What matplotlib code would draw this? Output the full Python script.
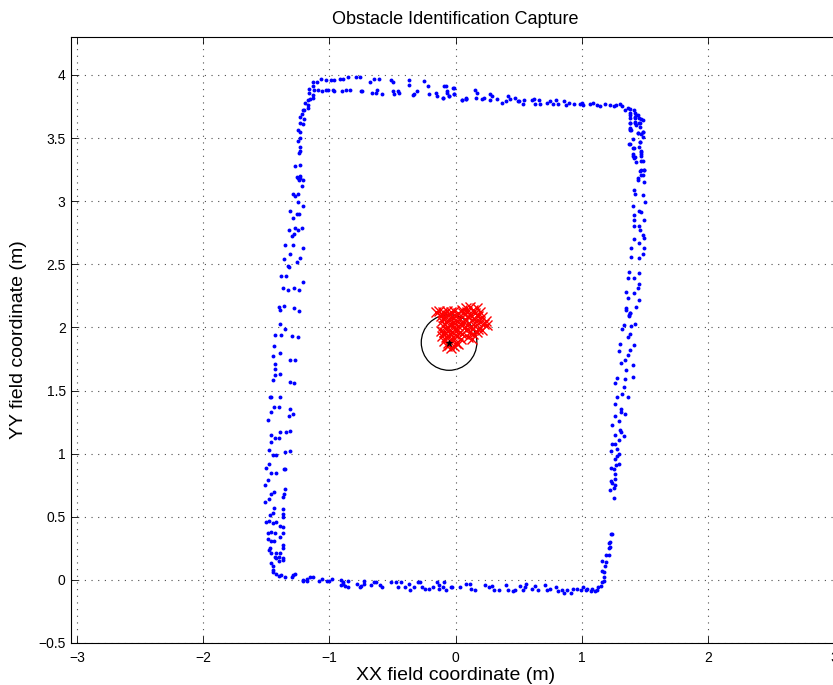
import matplotlib
matplotlib.use('Agg')
import matplotlib.pyplot as plt
from matplotlib.patches import Circle

plt.rcParams['font.family'] = ['Liberation Sans', 'DejaVu Sans']

# blue: wall points (x, y in metres)
# top-left corner and top edge
top_x = [-1.07, -1.03, -0.99, -0.96, -0.92, -0.89, -0.85, -0.79, -0.76, -0.68, -0.65, -0.61, -0.51, -0.50,
         -0.37, -0.37, -0.25, -0.22, -0.09, -0.01,
         -1.09, -1.06, -1.03, -1.01, -0.97, -0.96, -0.90, -0.87, -0.84, -0.75, -0.74, -0.66, -0.63, -0.62,
         -0.58, -0.50, -0.49, -0.46, -0.45, -0.34, -0.33, -0.31, -0.21, -0.16, -0.15, -0.10, -0.07, -0.05,
         -0.01, 0.05, 0.08,
         -0.08, -0.07, -0.10, -0.05, -0.02, -0.01, 0.05, 0.08, 0.08, 0.15, 0.17, 0.16, 0.21, 0.22, 0.27,
         0.29, 0.27, 0.33, 0.37, 0.40, 0.41, 0.43, 0.47, 0.49, 0.50, 0.53, 0.54, 0.60, 0.62, 0.63, 0.66,
         0.67, 0.72, 0.75, 0.77, 0.79, 0.81, 0.86, 0.87, 0.90, 0.94, 0.98, 1.00, 1.01, 1.06, 1.09, 1.12,
         1.14, 1.18, 1.22, 1.25, 1.27, 1.30, 1.32, 1.34, 1.36, 1.38, 1.41, 1.42, 1.44, 1.45, 1.42, 1.38]
top_y = [3.97, 3.96, 3.96, 3.96, 3.97, 3.97, 3.98, 3.98, 3.98, 3.94, 3.97, 3.97, 3.96, 3.94,
         3.96, 3.92, 3.95, 3.91, 3.91, 3.90,
         3.88, 3.87, 3.88, 3.88, 3.88, 3.87, 3.87, 3.88, 3.88, 3.87, 3.87, 3.86, 3.86, 3.88,
         3.85, 3.87, 3.85, 3.87, 3.86, 3.84, 3.85, 3.87, 3.85, 3.86, 3.83, 3.82, 3.86, 3.83,
         3.85, 3.80, 3.81,
         3.91, 3.87, 3.82, 3.83, 3.90, 3.85, 3.80, 3.81, 3.82, 3.88, 3.86, 3.82, 3.81, 3.82, 3.85,
         3.83, 3.80, 3.81, 3.78, 3.79, 3.83, 3.81, 3.82, 3.79, 3.79, 3.77, 3.80, 3.80, 3.81, 3.77, 3.80,
         3.77, 3.78, 3.79, 3.77, 3.80, 3.77, 3.79, 3.76, 3.78, 3.77, 3.77, 3.78, 3.76, 3.77, 3.78, 3.76,
         3.75, 3.77, 3.76, 3.75, 3.76, 3.77, 3.75, 3.72, 3.74, 3.73, 3.72, 3.70, 3.68, 3.66, 3.66, 3.66]

# left edge
left_x = [-1.13, -1.10, -1.13, -1.12, -1.16, -1.16, -1.13, -1.13, -1.17, -1.15, -1.19, -1.17, -1.17,
          -1.20, -1.21, -1.22, -1.23, -1.20, -1.23, -1.21, -1.25, -1.23, -1.23, -1.25, -1.23, -1.23,
          -1.24, -1.27, -1.23, -1.26, -1.23,
          -1.25, -1.23, -1.21, -1.24, -1.22, -1.29, -1.25, -1.27, -1.25, -1.21, -1.31, -1.26, -1.24,
          -1.29, -1.27, -1.22, -1.32, -1.25, -1.28, -1.30, -1.35, -1.29, -1.21, -1.31, -1.36, -1.23,
          -1.26, -1.33, -1.32, -1.38, -1.34, -1.21, -1.37, -1.33, -1.28, -1.24, -1.40, -1.39, -1.36,
          -1.28, -1.24, -1.39, -1.35, -1.43, -1.38, -1.30, -1.25, -1.44, -1.39, -1.45, -1.31, -1.27,
          -1.43, -1.43, -1.43, -1.39, -1.45, -1.31, -1.28,
          -1.46, -1.47, -1.39, -1.44, -1.40, -1.46, -1.31, -1.32, -1.29, -1.49, -1.46, -1.43, -1.40,
          -1.39, -1.34, -1.31, -1.46, -1.48, -1.45, -1.42, -1.35, -1.31, -1.48, -1.50, -1.46, -1.42,
          -1.36, -1.35, -1.49, -1.51, -1.44, -1.46, -1.35, -1.36, -1.37, -1.48, -1.51, -1.44, -1.37,
          -1.45, -1.47, -1.37, -1.37, -1.48, -1.50, -1.45, -1.42, -1.39, -1.37, -1.49, -1.46, -1.43,
          -1.37, -1.39, -1.49, -1.46, -1.44, -1.37, -1.47, -1.48, -1.37, -1.46, -1.42, -1.43, -1.40,
          -1.39, -1.42, -1.40, -1.37, -1.37, -1.46, -1.45, -1.45, -1.45, -1.42, -1.40, -1.38]
left_y = [3.94, 3.94, 3.91, 3.88, 3.89, 3.86, 3.84, 3.82, 3.80, 3.81, 3.78, 3.76, 3.74,
          3.72, 3.72, 3.69, 3.67, 3.65, 3.62, 3.61, 3.56, 3.55, 3.50, 3.48, 3.43, 3.40,
          3.38, 3.28, 3.29, 3.19, 3.18,
          3.18, 3.20, 3.17, 3.17, 3.12, 3.06, 3.06, 3.04, 2.99, 2.96, 2.92, 2.90, 2.90,
          2.87, 2.79, 2.79, 2.77, 2.77, 2.74, 2.72, 2.65, 2.65, 2.63, 2.58, 2.54, 2.55,
          2.52, 2.49, 2.48, 2.41, 2.41, 2.36, 2.31, 2.30, 2.31, 2.30, 2.16, 2.14, 2.17,
          2.15, 2.13, 2.03, 1.99, 1.94, 1.94, 1.93, 1.92, 1.85, 1.80, 1.77, 1.74, 1.74,
          1.71, 1.67, 1.62, 1.63, 1.58, 1.57, 1.56,
          1.45, 1.45, 1.45, 1.37, 1.37, 1.33, 1.35, 1.30, 1.31, 1.27, 1.15, 1.12, 1.12,
          1.17, 1.17, 1.18, 1.09, 1.03, 0.99, 0.99, 1.01, 1.02, 0.92, 0.89, 0.85, 0.85,
          0.88, 0.88, 0.79, 0.75, 0.70, 0.68, 0.72, 0.68, 0.66, 0.64, 0.62, 0.57, 0.56,
          0.53, 0.51, 0.52, 0.50, 0.47, 0.46, 0.45, 0.46, 0.43, 0.42, 0.37, 0.38, 0.37,
          0.37, 0.34, 0.32, 0.31, 0.31, 0.28, 0.25, 0.24, 0.25, 0.21, 0.21, 0.18, 0.18,
          0.21, 0.17, 0.15, 0.17, 0.16, 0.13, 0.11, 0.08, 0.06, 0.05, 0.03, 0.04]

# bottom edge
bot_x = [-1.35, -1.30, -1.29, -1.27, -1.21, -1.21, -1.18, -1.18, -1.15, -1.13, -1.08, -1.06, -1.02,
         -1.00, -0.98, -0.91, -0.89, -0.91, -0.88, -0.85, -0.89, -0.85, -0.78, -0.76, -0.75, -0.73,
         -0.73, -0.67, -0.65, -0.63, -0.60, -0.58, -0.51, -0.47, -0.46, -0.43, -0.40, -0.37, -0.36,
         -0.33, -0.30, -0.28, -0.27, -0.24, -0.21, -0.18, -0.15, -0.13, -0.13, -0.10, -0.04,
         -0.09, -0.08, -0.03, 0.03, 0.08, 0.11, 0.12, 0.15, 0.23, 0.26, 0.29, 0.30, 0.34, 0.40, 0.41,
         0.45, 0.47, 0.51, 0.53, 0.55, 0.56, 0.60, 0.63, 0.65, 0.71, 0.72, 0.75, 0.79, 0.81, 0.84,
         0.86, 0.88, 0.91, 0.93, 0.96, 0.99, 1.01, 1.03, 1.04, 1.07, 1.08, 1.10, 1.12, 1.13, 1.15,
         1.16, 1.17, 1.17, 1.17, 1.16, 1.18, 1.16, 1.19, 1.19, 1.21, 1.21, 1.22, 1.21, 1.22, 1.23, 1.24]
bot_y = [0.02, 0.02, 0.04, 0.05, 0.00, -0.01, 0.01, -0.01, 0.02, 0.02, -0.01, 0.01, -0.01,
         -0.01, 0.01, 0.00, -0.02, -0.04, -0.05, -0.01, -0.03, -0.06, -0.03, -0.06, -0.05, -0.01,
         -0.03, -0.04, -0.02, -0.02, -0.04, -0.06, -0.02, -0.02, -0.06, -0.02, -0.06, -0.03, -0.08,
         -0.06, -0.02, -0.02, -0.06, -0.07, -0.07, -0.06, -0.02, -0.04, -0.07, -0.06, -0.06,
         -0.02, -0.08, -0.06, -0.06, -0.03, -0.03, -0.07, -0.08, -0.04, -0.06, -0.05, -0.08, -0.08,
         -0.04, -0.08, -0.09, -0.08, -0.05, -0.08, -0.06, -0.03, -0.07, -0.05, -0.08, -0.04, -0.08,
         -0.07, -0.06, -0.09, -0.08, -0.10, -0.08, -0.10, -0.07, -0.07, -0.08, -0.06, -0.08, -0.07,
         -0.09, -0.07, -0.09, -0.08, -0.06, -0.05, -0.02, -0.01, 0.02, 0.06, 0.07, 0.11, 0.15, 0.14,
         0.20, 0.20, 0.25, 0.26, 0.29, 0.30, 0.36, 0.36]

# right edge
right_x = [1.48, 1.38, 1.42, 1.46, 1.43, 1.38, 1.39, 1.48, 1.44, 1.48, 1.40, 1.46, 1.38, 1.45, 1.47,
           1.41, 1.40, 1.42, 1.47, 1.48, 1.43, 1.47, 1.49, 1.48, 1.44,
           1.38, 1.38, 1.42, 1.43, 1.47, 1.38, 1.42, 1.45, 1.38, 1.46, 1.38, 1.48, 1.44, 1.47, 1.46,
           1.37, 1.40, 1.47, 1.47, 1.40, 1.41, 1.47, 1.46, 1.49, 1.47, 1.44, 1.49, 1.41, 1.42, 1.48,
           1.50, 1.40, 1.45, 1.47, 1.41, 1.49, 1.41, 1.41, 1.45, 1.46, 1.48, 1.49, 1.41, 1.45, 1.49,
           1.39, 1.48, 1.39, 1.45, 1.37, 1.45, 1.36, 1.41, 1.45, 1.44, 1.35, 1.41, 1.36, 1.45, 1.35,
           1.43, 1.38, 1.37,
           1.35, 1.38, 1.37, 1.42, 1.33, 1.39, 1.32, 1.38, 1.36, 1.30, 1.41, 1.38, 1.29, 1.36, 1.34,
           1.31, 1.40, 1.35, 1.28, 1.40, 1.34, 1.26, 1.33, 1.32, 1.28, 1.36, 1.26, 1.31, 1.31, 1.26,
           1.34, 1.29, 1.24, 1.30, 1.31, 1.26, 1.33, 1.29, 1.24, 1.26, 1.28, 1.23, 1.29, 1.28, 1.26,
           1.29, 1.27, 1.25, 1.23, 1.26, 1.26, 1.23, 1.24, 1.26, 1.25, 1.22, 1.25]
right_y = [3.64, 3.62, 3.63, 3.62, 3.60, 3.57, 3.56, 3.55, 3.54, 3.51, 3.49, 3.47, 3.45, 3.43, 3.40,
           3.42, 3.37, 3.35, 3.36, 3.32, 3.31, 3.25, 3.25, 3.21, 3.18,
           3.70, 3.68, 3.67, 3.68, 3.65, 3.62, 3.62, 3.62, 3.58, 3.59, 3.56, 3.55, 3.54, 3.53, 3.47,
           3.45, 3.42, 3.39, 3.37, 3.36, 3.34, 3.32, 3.24, 3.25, 3.21, 3.17, 3.15, 3.09, 3.06, 3.05,
           2.99, 2.96, 2.92, 2.91, 2.89, 2.85, 2.85, 2.80, 2.80, 2.77, 2.73, 2.71, 2.70, 2.67, 2.63,
           2.63, 2.58, 2.56, 2.55, 2.44, 2.43, 2.39, 2.39, 2.34, 2.31, 2.28, 2.27, 2.23, 2.22, 2.15,
           2.16, 2.11, 2.10,
           2.14, 2.11, 2.09, 2.03, 2.02, 2.01, 1.99, 1.95, 1.92, 1.87, 1.86, 1.82, 1.81, 1.78, 1.74,
           1.72, 1.70, 1.66, 1.60, 1.61, 1.59, 1.56, 1.53, 1.47, 1.45, 1.45, 1.39, 1.35, 1.33, 1.30,
           1.31, 1.26, 1.23, 1.19, 1.17, 1.15, 1.14, 1.11, 1.08, 1.08, 1.04, 1.02, 1.00, 0.98, 0.96,
           0.92, 0.91, 0.88, 0.89, 0.84, 0.80, 0.78, 0.77, 0.75, 0.73, 0.71, 0.65]

# red: obstacle detections
obs_x = [-0.16, -0.13, -0.10, -0.07, -0.04, -0.01, 0.02, -0.12, -0.09, -0.06, -0.03, 0.00, 0.03,
         -0.11, -0.08, -0.05, -0.02, 0.01, 0.04, -0.10, -0.07, -0.04, -0.01, 0.02,
         0.05, 0.08, 0.11, 0.14, 0.17, 0.19, 0.06, 0.09, 0.12, 0.15, 0.18, 0.21, 0.07, 0.10, 0.13,
         0.16, 0.19, 0.22, 0.25, 0.24, 0.06, 0.09, 0.12, 0.15, 0.18, 0.21, 0.08, 0.11, 0.14, 0.17,
         0.10, 0.13,
         -0.12, -0.09, -0.06, -0.03, 0.00, 0.03, 0.05, -0.11, -0.08, -0.05, -0.02, 0.01, 0.04,
         -0.09, -0.06, -0.03, 0.00, 0.02, -0.07, -0.04, -0.01, -0.05]
obs_y = [2.12, 2.13, 2.12, 2.13, 2.12, 2.13, 2.11, 2.09, 2.08, 2.10, 2.08, 2.09, 2.07,
         2.05, 2.04, 2.06, 2.04, 2.05, 2.03, 2.01, 2.00, 2.02, 2.00, 2.01,
         2.14, 2.15, 2.16, 2.14, 2.15, 2.12, 2.11, 2.12, 2.10, 2.11, 2.09, 2.08, 2.07, 2.08, 2.06,
         2.05, 2.04, 2.03, 2.02, 2.05, 2.03, 2.02, 2.00, 2.01, 1.99, 1.98, 1.98, 1.96, 1.95, 1.96,
         1.92, 1.91,
         1.97, 1.96, 1.97, 1.96, 1.97, 1.96, 1.95, 1.93, 1.92, 1.93, 1.92, 1.93, 1.91,
         1.89, 1.88, 1.89, 1.88, 1.87, 1.85, 1.84, 1.85, 1.86]

# estimated obstacle
est_x, est_y = -0.053, 1.88
est_r = 0.22

wall_x = top_x + left_x + bot_x + right_x
wall_y = top_y + left_y + bot_y + right_y

fig = plt.figure(figsize=(8.33, 6.85), dpi=100)
ax = fig.add_axes([70.5 / 833, 42 / 685, 770.5 / 833, 606 / 685])

ax.plot(wall_x, wall_y, 'o', color='b', markersize=2.8, markeredgewidth=0)
ax.plot(obs_x, obs_y, 'x', color='r', markersize=7, markeredgewidth=1.0)
ax.add_patch(Circle((est_x, est_y), est_r, fill=False, edgecolor='k', linewidth=0.9))
ax.plot([est_x], [est_y], '*', color='k', markersize=5, markeredgewidth=0.6)

ax.set_xlim(-3.05, 3.05)
ax.set_ylim(-0.5, 4.3)
ax.set_xticks([-3, -2, -1, 0, 1, 2, 3])
ax.set_yticks([-0.5, 0, 0.5, 1, 1.5, 2, 2.5, 3, 3.5, 4])
ax.set_yticklabels(['\u22120.5', '0', '0.5', '1', '1.5', '2', '2.5', '3', '3.5', '4'])
ax.tick_params(direction='in', top=True, right=True, length=5, width=0.6, labelsize=10)
ax.tick_params(axis='x', pad=6)
ax.grid(True, linestyle=(0, (1, 5)), color='0.3', linewidth=0.8)
for s in ax.spines.values():
    s.set_linewidth(0.8)

ax.set_title('Obstacle Identification Capture', fontsize=13, pad=9)
ax.set_xlabel('XX field coordinate (m)', fontsize=14, labelpad=1)
ax.set_ylabel('YY field coordinate (m)', fontsize=14, labelpad=8)

fig.savefig('out.png', dpi=100)
